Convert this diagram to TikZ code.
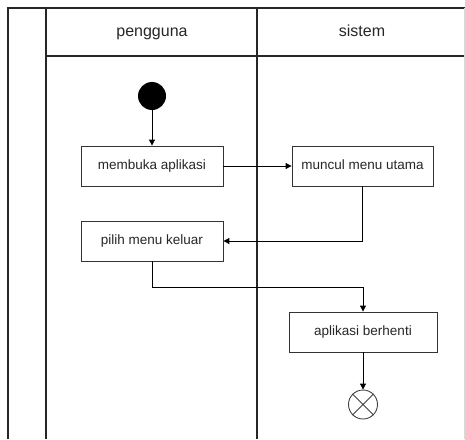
\documentclass[tikz,border=0pt]{standalone}
\usepackage{fontspec}
\setmainfont{Liberation Sans}
\usetikzlibrary{arrows.meta}
\begin{document}
\begin{tikzpicture}[x=1pt,y=-1pt,
  frame/.style={line width=1.2pt,draw=black!85},
  act/.style={draw=black!80,line width=0.9pt,rectangle,minimum width=142pt,minimum height=40pt,inner sep=0pt,font=\fontsize{13.5}{16}\selectfont,text=black!85,text height=10pt,text depth=3pt},
  flow/.style={draw=black,line width=1pt,-{Triangle[length=6pt,width=6pt]}},
  hdr/.style={font=\fontsize{16}{18}\selectfont,text=black!85,text height=12pt,text depth=3.5pt}]
\useasboundingbox (0,0) rectangle (465,439);
% frame
\draw[frame] (8,439) -- (8,8) -- (465,8);
\draw[frame] (46,8) -- (46,439);
\draw[frame] (257,8) -- (257,439);
\draw[frame] (46,56) -- (465,56);
\draw[black!15,line width=0.8pt] (464,8) -- (464,439);
% headers
\node[hdr] (h1) at (152,32) {pengguna};
\node[hdr] (h2) at (362,32) {sistem};
% nodes
\node[circle,fill=black,minimum size=28pt,inner sep=0pt] (start) at (152,96) {};
\node[act] (a1) at (152,166) {membuka aplikasi};
\node[act,minimum width=141pt] (a2) at (362.5,166) {muncul menu utama};
\node[act] (a3) at (152,241) {pilih menu keluar};
\node[act,minimum width=148pt] (a4) at (363,332) {aplikasi berhenti};
\node[draw=black!75,line width=0.9pt,circle,minimum size=29pt,inner sep=0pt] (end) at (363,404.5) {};
\draw[black!75,line width=0.9pt] (end.45) -- (end.225) (end.135) -- (end.315);
% edges
\draw[flow] (start) -- (a1);
\draw[flow] (a1) -- (a2);
\draw[flow] (a2.south) |- (a3.east);
\draw[flow] (a3.south) |- (363,287) -- (a4.north);
\draw[flow] (a4) -- (end);
\end{tikzpicture}
\end{document}
